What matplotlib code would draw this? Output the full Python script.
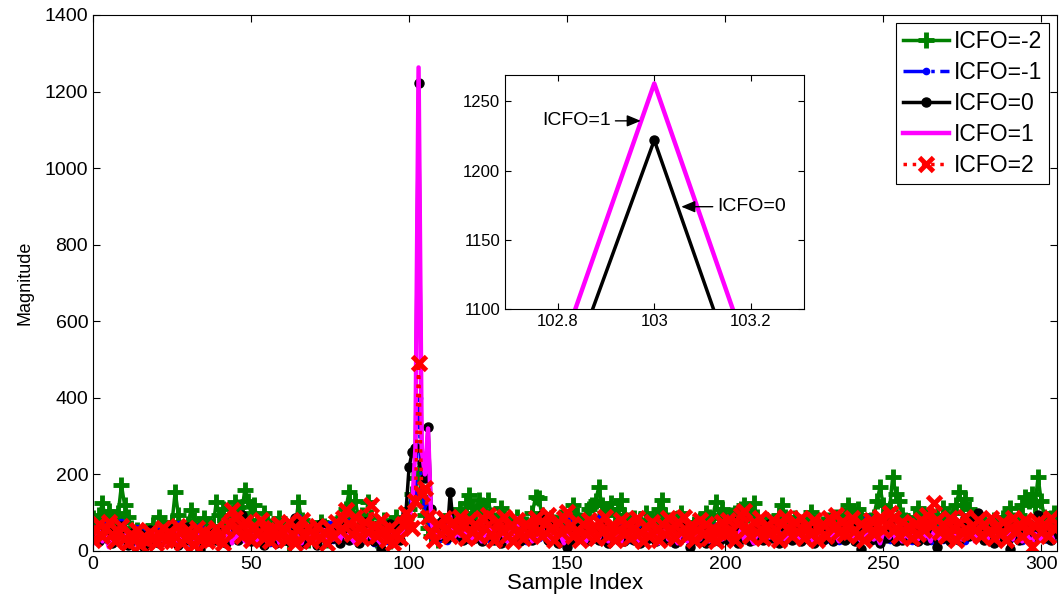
import numpy as np
import matplotlib
matplotlib.use('Agg')
import matplotlib.pyplot as plt

plt.rcParams['font.family'] = ['Liberation Sans', 'DejaVu Sans']

# magnitude per sample index for each ICFO value
icfo_m2 = [85, 60, 95, 125, 80, 105, 90, 70, 100, 172, 120, 90, 60, 40, 55, 35, 45, 30, 50, 68,
           55, 89, 70, 60, 45, 75, 154, 95, 60, 40, 70, 107, 80, 55, 60, 86, 70, 50, 65, 128,
           95, 110, 70, 60, 85, 128, 115, 95, 160, 130, 100, 120, 80, 60, 99, 75, 65, 40, 50, 85,
           70, 45, 20, 55, 60, 128, 80, 45, 30, 60, 50, 40, 76, 65, 30, 50, 45, 70, 55, 90,
           110, 154, 100, 130, 85, 95, 70, 128, 90, 60, 30, 50, 80, 45, 25, 70, 90, 60, 75, 85,
           110, 150, 190, 204, 140, 95, 60, 40, 55, 30, 70, 45, 60, 95, 75, 80, 110, 95, 125, 146,
           115, 100, 133, 120, 105, 133, 95, 80, 70, 112, 85, 60, 75, 50, 90, 65, 40, 70, 55, 100,
           141, 138, 95, 70, 60, 85, 75, 55, 90, 60, 50, 70, 120, 95, 80, 65, 90, 110, 120, 130,
           167, 120, 100, 110, 125, 95, 110, 133, 95, 80, 70, 85, 65, 80, 60, 99, 80, 70, 90, 110,
           133, 95, 80, 70, 60, 85, 99, 75, 60, 55, 70, 50, 80, 70, 100, 90, 85, 128, 95, 110,
           85, 70, 95, 100, 80, 110, 120, 95, 100, 125, 90, 70, 60, 80, 55, 75, 60, 95, 120, 90,
           70, 60, 85, 65, 50, 75, 80, 102, 75, 60, 55, 70, 45, 80, 70, 90, 65, 80, 95, 120,
           100, 85, 110, 95, 70, 60, 80, 90, 130, 167, 120, 90, 110, 193, 150, 130, 95, 80, 75, 70,
           90, 112, 85, 70, 95, 80, 75, 85, 60, 112, 95, 80, 100, 120, 154, 120, 135, 110, 90, 70,
           85, 60, 75, 50, 65, 80, 70, 60, 85, 90, 112, 80, 70, 95, 120, 140, 130, 150, 120, 193,
           130, 90, 75, 85, 100]

icfo_m1 = [40, 60, 35, 50, 70, 45, 30, 55, 40, 75, 50, 35, 25, 45, 60, 30, 50, 40, 20, 45,
           35, 55, 40, 25, 60, 45, 30, 70, 50, 35, 45, 20, 55, 40, 65, 30, 45, 25, 50, 40,
           60, 35, 50, 45, 70, 55, 90, 40, 60, 30, 45, 25, 55, 40, 35, 60, 20, 45, 30, 55,
           40, 25, 50, 65, 35, 90, 45, 30, 55, 40, 60, 25, 45, 35, 50, 70, 30, 55, 40, 60,
           45, 75, 35, 55, 40, 60, 30, 50, 40, 20, 55, 35, 45, 25, 60, 40, 50, 30, 65, 90,
           110, 130, 150, 400, 160, 120, 90, 40, 55, 30, 60, 45, 25, 70, 40, 55, 35, 60, 45, 30,
           55, 40, 65, 30, 50, 45, 25, 60, 40, 55, 35, 70, 45, 30, 60, 50, 40, 25, 55, 45,
           60, 35, 50, 45, 25, 55, 40, 70, 30, 60, 45, 80, 35, 55, 40, 25, 60, 45, 30, 50,
           85, 40, 55, 35, 60, 45, 25, 70, 40, 55, 30, 45, 60, 35, 50, 25, 55, 40, 45, 30,
           55, 40, 60, 25, 45, 70, 35, 50, 40, 15, 55, 30, 60, 45, 25, 50, 40, 65, 35, 55,
           40, 85, 50, 30, 60, 45, 35, 55, 40, 25, 70, 45, 55, 30, 50, 40, 60, 35, 45, 25,
           60, 40, 55, 30, 45, 65, 35, 50, 25, 55, 40, 60, 30, 45, 55, 40, 25, 60, 45, 35,
           50, 30, 60, 40, 55, 90, 35, 45, 25, 50, 40, 65, 30, 55, 45, 35, 60, 40, 50, 25,
           45, 60, 35, 55, 40, 25, 50, 45, 60, 30, 55, 40, 85, 35, 50, 45, 25, 60, 40, 90,
           55, 35, 50, 45, 25, 60, 40, 55, 30, 45, 60, 35, 50, 40, 25, 55, 45, 60, 35, 50,
           40, 55, 30, 45, 60]

icfo_0 = [55, 40, 25, 60, 35, 50, 20, 45, 30, 65, 40, 15, 35, 50, 25, 45, 10, 35, 55, 30,
          45, 20, 50, 35, 60, 25, 40, 15, 55, 30, 62, 45, 20, 40, 5, 35, 50, 25, 45, 30,
          55, 35, 20, 50, 40, 65, 30, 95, 55, 40, 25, 60, 35, 50, 15, 45, 30, 55, 20, 40,
          35, 55, 25, 45, 85, 30, 50, 20, 40, 60, 35, 15, 70, 45, 25, 55, 35, 50, 20, 45,
          65, 30, 55, 40, 20, 50, 75, 35, 60, 25, 45, 5, 55, 35, 70, 40, 60, 30, 80, 100,
          220, 258, 269, 1222, 230, 190, 324, 110, 60, 40, 75, 50, 35, 154, 65, 45, 80, 30, 55, 40,
          70, 35, 55, 25, 60, 45, 80, 30, 50, 20, 65, 40, 55, 35, 75, 25, 50, 40, 60, 30,
          45, 70, 95, 55, 30, 50, 65, 20, 40, 55, 10, 45, 30, 60, 35, 50, 25, 65, 40, 55,
          30, 50, 70, 20, 45, 60, 35, 55, 25, 40, 65, 30, 50, 20, 45, 60, 35, 55, 25, 40,
          50, 30, 60, 45, 20, 55, 35, 65, 40, 10, 50, 30, 55, 45, 20, 60, 35, 50, 25, 45,
          60, 30, 80, 45, 20, 55, 35, 50, 25, 60, 40, 55, 30, 45, 70, 35, 50, 20, 60, 40,
          55, 30, 45, 65, 25, 50, 35, 60, 20, 45, 55, 30, 40, 65, 25, 50, 35, 55, 30, 45,
          60, 25, 50, 5, 40, 55, 30, 65, 45, 20, 50, 35, 70, 40, 25, 55, 30, 45, 60, 35,
          50, 25, 45, 65, 30, 55, 40, 10, 50, 35, 60, 25, 45, 70, 30, 55, 85, 40, 60, 90,
          99, 50, 30, 55, 40, 20, 45, 60, 35, 50, 5, 40, 65, 30, 55, 45, 70, 40, 60, 95,
          50, 35, 60, 30, 45]

icfo_1 = [20, 35, 50, 25, 40, 10, 45, 30, 55, 20, 35, 50, 25, 40, 15, 45, 30, 20, 40, 35,
          50, 25, 40, 15, 35, 45, 20, 55, 30, 40, 25, 50, 35, 15, 45, 30, 40, 20, 50, 35,
          25, 45, 30, 55, 20, 40, 35, 50, 25, 60, 30, 45, 20, 40, 35, 25, 50, 30, 45, 20,
          40, 30, 55, 25, 45, 35, 20, 50, 30, 40, 25, 45, 35, 55, 20, 40, 30, 45, 25, 50,
          35, 45, 30, 20, 50, 40, 25, 55, 35, 45, 30, 20, 40, 50, 25, 45, 35, 30, 55, 70,
          90, 120, 269, 1263, 263, 200, 320, 80, 40, 55, 35, 60, 45, 90, 30, 50, 40, 65, 35, 45,
          30, 55, 40, 25, 50, 35, 60, 45, 30, 55, 40, 25, 50, 35, 86, 40, 55, 30, 45, 25,
          50, 35, 60, 40, 25, 45, 30, 55, 40, 20, 50, 35, 45, 30, 55, 40, 25, 50, 35, 45,
          30, 55, 40, 25, 50, 35, 45, 20, 55, 40, 30, 50, 35, 25, 45, 40, 55, 30, 45, 20,
          40, 55, 30, 45, 35, 20, 50, 40, 25, 55, 35, 45, 30, 50, 40, 25, 55, 35, 45, 30,
          50, 35, 25, 45, 40, 55, 30, 50, 35, 20, 45, 40, 30, 55, 35, 45, 25, 50, 40, 30,
          45, 35, 55, 25, 40, 50, 30, 45, 20, 40, 55, 35, 45, 30, 50, 40, 25, 55, 35, 45,
          30, 50, 40, 25, 45, 35, 55, 30, 40, 20, 50, 45, 35, 55, 30, 40, 25, 50, 35, 45,
          40, 30, 55, 35, 45, 25, 50, 40, 30, 55, 35, 45, 20, 50, 40, 30, 55, 35, 45, 25,
          50, 35, 40, 30, 55, 45, 25, 50, 40, 35, 45, 30, 55, 40, 25, 50, 35, 20, 45, 40,
          30, 50, 35, 45, 25]

icfo_2 = [30, 55, 70, 40, 60, 75, 45, 25, 50, 65, 35, 20, 45, 30, 55, 15, 40, 25, 50, 35,
          20, 45, 60, 30, 50, 25, 40, 65, 20, 35, 55, 45, 15, 60, 30, 50, 25, 45, 35, 60,
          40, 20, 55, 70, 107, 85, 60, 40, 75, 50, 30, 65, 45, 80, 35, 55, 25, 60, 40, 70,
          50, 30, 75, 45, 20, 55, 80, 40, 60, 25, 45, 65, 35, 50, 20, 60, 40, 75, 55, 85,
          107, 70, 45, 90, 60, 35, 75, 50, 120, 65, 40, 80, 55, 30, 60, 20, 45, 35, 70, 100,
          80, 60, 130, 490, 150, 165, 90, 50, 30, 70, 45, 85, 60, 40, 75, 55, 90, 65, 35, 80,
          50, 70, 40, 85, 60, 95, 45, 30, 75, 55, 90, 40, 65, 25, 80, 50, 35, 70, 45, 60,
          85, 55, 40, 70, 95, 60, 30, 75, 50, 85, 102, 65, 40, 55, 30, 70, 45, 80, 60, 35,
          75, 50, 90, 40, 65, 30, 55, 80, 45, 70, 35, 60, 85, 50, 25, 65, 40, 75, 55, 30,
          70, 45, 85, 60, 35, 75, 50, 90, 40, 65, 30, 55, 80, 45, 70, 35, 60, 25, 50, 75,
          45, 80, 55, 30, 70, 95, 105, 60, 40, 75, 50, 85, 35, 65, 45, 80, 55, 30, 70, 90,
          60, 40, 75, 50, 85, 35, 65, 45, 80, 30, 55, 70, 40, 85, 60, 95, 50, 75, 45, 65,
          85, 55, 40, 70, 30, 60, 80, 45, 65, 90, 55, 70, 100, 85, 60, 40, 75, 50, 65, 35,
          70, 45, 80, 55, 95, 65, 125, 80, 50, 70, 40, 85, 60, 30, 75, 50, 90, 45, 65, 55,
          80, 40, 70, 50, 85, 35, 65, 45, 75, 30, 60, 85, 50, 70, 40, 80, 55, 10, 65, 75,
          50, 70, 40, 85, 60]

idx = np.arange(len(icfo_m2))

series = [
    (icfo_m2, 'ICFO=-2', dict(color='#008000', ls='-', lw=2.5, marker='+', ms=12, mew=3.5)),
    (icfo_m1, 'ICFO=-1', dict(color='#0000ff', ls='-.', lw=2.5, marker='.', ms=9)),
    (icfo_0, 'ICFO=0', dict(color='k', ls='-', lw=2.5, marker='.', ms=13)),
    (icfo_1, 'ICFO=1', dict(color='#ff00ff', ls='-', lw=3.2)),
    (icfo_2, 'ICFO=2', dict(color='#ff0000', ls=':', lw=2.5, marker='x', ms=10, mew=3.5)),
]

fig = plt.figure(figsize=(10.63, 6.11), dpi=100)
ax = fig.add_axes([0.0875, 0.0982, 0.9069, 0.8773])
for vals, name, st in series:
    ax.plot(idx, vals, label=name, **st)

ax.set_xlim(0, 305)
ax.set_ylim(0, 1400)
ax.set_xticks(range(0, 301, 50))
ax.set_yticks(range(0, 1401, 200))
ax.tick_params(direction='in', top=True, right=True, labelsize=14, length=5)
ax.set_xlabel('Sample Index', fontsize=16, labelpad=0)
ax.set_ylabel('Magnitude', fontsize=13, labelpad=8)

leg = ax.legend(loc='upper right', fontsize=16.5, fancybox=False, edgecolor='k',
                framealpha=1, handlelength=2.0, handletextpad=0.2, labelspacing=0.35,
                borderpad=0.3, borderaxespad=0.35)
leg.get_frame().set_linewidth(0.8)

# zoomed view of the peak
ax2 = fig.add_axes([0.475, 0.494, 0.281, 0.383])
for vals, name, st in series[2:4]:
    ax2.plot(idx, vals, **st)
ax2.set_xlim(102.69, 103.31)
ax2.set_ylim(1100, 1269)
ax2.set_xticks([102.8, 103, 103.2])
ax2.set_xticklabels(['102.8', '103', '103.2'])
ax2.set_yticks([1100, 1150, 1200, 1250])
ax2.tick_params(direction='in', top=True, right=True, labelsize=12, length=4)

arrow = dict(arrowstyle='-|>,head_length=0.6,head_width=0.25', color='k', lw=1,
             shrinkA=1, shrinkB=0)
ax2.annotate('ICFO=1', xy=(102.972, 1236), xytext=(102.768, 1236), va='center',
             fontsize=14, arrowprops=arrow)
ax2.annotate('ICFO=0', xy=(103.056, 1174), xytext=(103.13, 1174), va='center',
             fontsize=14, arrowprops=arrow)

fig.savefig('out.png', dpi=100)
